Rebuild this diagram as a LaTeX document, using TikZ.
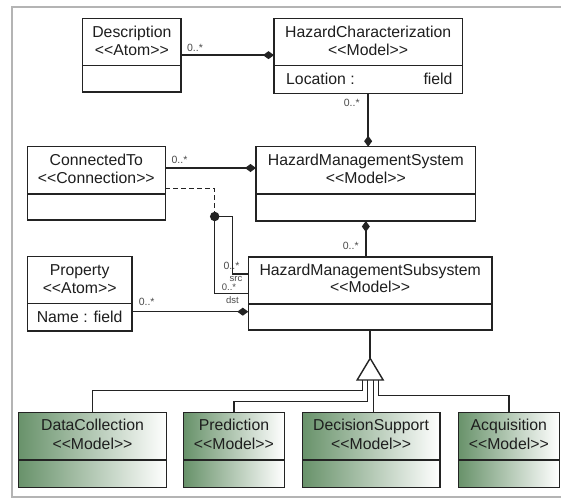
\documentclass[tikz,border=0pt]{standalone}
\usepackage{fontspec}
\setmainfont{Liberation Sans}
\usetikzlibrary{arrows.meta,shapes.geometric}
\definecolor{lc}{RGB}{35,35,35}
\definecolor{tc}{RGB}{30,30,30}
\definecolor{gl}{RGB}{104,146,106}
\definecolor{framec}{RGB}{180,180,180}
\newcommand\stereo[1]{\mbox{<}\mbox{<}#1\mbox{>}\mbox{>}}
\tikzset{
  cls/.style={draw=lc, line width=1.4pt, inner sep=0pt, outer sep=0pt, fill=white},
  gcls/.style={draw=lc, line width=1.4pt, inner sep=0pt, outer sep=0pt, left color=gl, right color=white},
  ttl/.style={anchor=base, font=\fontsize{15.8}{18}\selectfont, text=tc, inner sep=0pt},
  mul/.style={font=\fontsize{10.5}{12}\selectfont, text=tc!80, inner sep=0pt},
  smul/.style={font=\fontsize{9.5}{11}\selectfont, text=tc!80, inner sep=0pt},
  conn/.style={draw=lc, line width=1.4pt},
  comp/.style={conn, -{Diamond[length=11pt,width=8pt]}},
}
\begin{document}
\begin{tikzpicture}[x=1pt,y=-1pt]
\useasboundingbox (0,0) rectangle (561,498);
\fill[white] (0,0) rectangle (561,498);
\draw[framec, line width=2pt] (561,6.7) -- (11.7,6.7) -- (11.7,496.7) -- (561,496.7);

% class boxes
\node[cls, minimum width=98.3pt, minimum height=73.7pt] (desc) at (131.85,55.15) {};
\node[cls, minimum width=188.3pt, minimum height=75pt] (hc) at (368.15,55.8) {};
\node[cls, minimum width=138pt, minimum height=73.3pt] (ct) at (96.3,183.35) {};
\node[cls, minimum width=219.7pt, minimum height=74.3pt] (hms) at (365.85,183.85) {};
\node[cls, minimum width=243.7pt, minimum height=73pt] (hmss) at (370.15,293.5) {};
\node[cls, minimum width=104.7pt, minimum height=74.3pt] (prop) at (79.65,293.85) {};
\node[gcls, minimum width=148.4pt, minimum height=74.6pt] (dc) at (92.5,450) {};
\node[gcls, minimum width=100.5pt, minimum height=74.6pt] (pr) at (233.95,450) {};
\node[gcls, minimum width=137.7pt, minimum height=74.6pt] (ds) at (371.15,450) {};
\node[gcls, minimum width=101pt, minimum height=74.6pt] (aq) at (508.8,450) {};

% dividers
\draw[conn] (desc.west |- 0,65.7) -- (desc.east |- 0,65.7);
\draw[conn] (hc.west |- 0,65.7) -- (hc.east |- 0,65.7);
\draw[conn] (ct.west |- 0,194) -- (ct.east |- 0,194);
\draw[conn] (hms.west |- 0,194) -- (hms.east |- 0,194);
\draw[conn] (hmss.west |- 0,304) -- (hmss.east |- 0,304);
\draw[conn] (prop.west |- 0,303.3) -- (prop.east |- 0,303.3);
\foreach \b in {dc,pr,ds,aq} {\draw[conn] (\b.west |- 0,460) -- (\b.east |- 0,460);}

% texts
\node[ttl] (t1) at (131.85,37.4) {Description};
\node[ttl] (t2) at (131.85,55) {\stereo{Atom}};
\node[ttl] (t3) at (368.15,37.4) {HazardCharacterization};
\node[ttl] (t4) at (368.15,55) {\stereo{Model}};
\node[ttl, anchor=base west] (t5) at (286,84.7) {Location :};
\node[ttl, anchor=base east] (t6) at (452.7,84.7) {field};
\node[ttl] (t7) at (96.3,165.7) {ConnectedTo};
\node[ttl] (t8) at (96.3,183.4) {\stereo{Connection}};
\node[ttl] (t9) at (365.85,165.7) {HazardManagementSystem};
\node[ttl] (t10) at (365.85,183.4) {\stereo{Model}};
\node[ttl] (t11) at (370.15,275) {HazardManagementSubsystem};
\node[ttl] (t12) at (370.15,292.4) {\stereo{Model}};
\node[ttl] (t13) at (79.65,275.7) {Property};
\node[ttl] (t14) at (79.65,293) {\stereo{Atom}};
\node[ttl] (t15) at (79.65,322.4) {Name : field};
\node[ttl] (t16) at (92.5,430.7) {DataCollection};
\node[ttl] (t17) at (92.5,449) {\stereo{Model}};
\node[ttl] (t18) at (233.95,430.7) {Prediction};
\node[ttl] (t19) at (233.95,449) {\stereo{Model}};
\node[ttl] (t20) at (371.15,430.7) {DecisionSupport};
\node[ttl] (t21) at (371.15,449) {\stereo{Model}};
\node[ttl] (t22) at (508.8,430.7) {Acquisition};
\node[ttl] (t23) at (508.8,449) {\stereo{Model}};

% compositions
\draw[comp] (desc.east) -- (desc.east -| hc.west);
\draw[comp] (hc.south) -- (hc.south |- hms.north);
\draw[comp] (ct.east |- 0,168) -- (hms.west |- 0,168);
\draw[comp] (hms.south |- hmss.north) -- (hms.south);
\draw[comp] (prop.east |- 0,311.7) -- (hmss.west |- 0,311.7);

% self association with association class
\node[circle, fill=lc, minimum size=9.5pt, inner sep=0pt] (jn) at (214.7,216.5) {};
\draw[conn] (hmss.west |- 0,274) -| (232.3,216.5) -- (jn.center);
\draw[conn] (hmss.west |- 0,293.3) -| (jn.center);
\draw[conn, dash pattern=on 4.5pt off 3.5pt] (ct.east |- 0,188.7) -| (jn);

% generalization
\coordinate (tA) at (hmss.south |- 0,358.3);
\draw[conn] (hmss.south) -- (tA);
\draw[conn] (dc.north) |- (362.3,390.7) -- (362.3,380);
\draw[conn] (pr.north) |- (367.7,401.7) -- (367.7,380);
\draw[conn] (373.3,412.7) -- (373.3,380);
\draw[conn] (aq.north) |- (378.3,395.5) -- (378.3,380);
\draw[conn, fill=white] (tA) -- ++(-13,21.7) -- ++(26,0) -- cycle;

% multiplicities and role names
\node[mul] (m1) at (195,47.7) {0..*};
\node[mul] (m2) at (351.7,103.3) {0..*};
\node[mul] (m3) at (179.5,160) {0..*};
\node[mul] (m4) at (350.7,245.7) {0..*};
\node[mul] (m5) at (146.7,301.7) {0..*};
\node[mul] (m6) at (231.5,266) {0..*};
\node[smul] (r1) at (236,279) {src};
\node[smul] (m7) at (229,287) {0..*};
\node[smul] (r2) at (232.5,300) {dst};
\end{tikzpicture}
\end{document}
